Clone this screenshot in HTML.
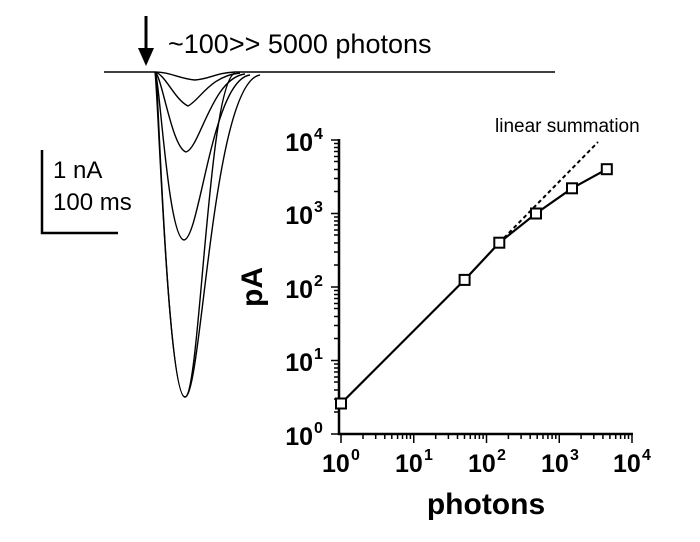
<!DOCTYPE html>
<html><head><style>
body{margin:0;background:#fff;}
svg{display:block;font-family:"Liberation Sans",Arial,sans-serif;}
.b{font-weight:bold;}
</style></head><body>
<svg width="700" height="542" viewBox="0 0 700 542">
<rect width="700" height="542" fill="#fff"/>
<line x1="146" y1="16" x2="146" y2="52" stroke="#000" stroke-width="3"/>
<polygon points="138,48 154,48 146,66" fill="#000"/>
<text x="168" y="53" font-size="27">~100&gt;&gt; 5000 photons</text>
<g fill="none" stroke="#000" stroke-width="1.4">
<path d="M104,72 L155,72 C170,72 180,79 195,80 C210,79 215,73 235,72 L555,72"/>
<path d="M155,72 C165,74 175,100 188,106 C200,100 210,76 240,73"/>
<path d="M155,72 C162,76 172,148 186,152 C200,148 212,78 245,74"/>
<path d="M155,72 C160,80 168,238 184,240 C200,238 212,80 250,75"/>
<path d="M155,72 C158,90 168,397 185,397 C202,397 212,82 260,75"/>
<path d="M156,72 C158,90 168,397 185,397 C200,397 208,82 235,73"/>
</g>
<path d="M42,150 L42,233 L118,233" fill="none" stroke="#000" stroke-width="2.5"/>
<text x="53" y="178" font-size="24">1 nA</text>
<text x="53" y="210" font-size="24">100 ms</text>
<g stroke="#000" stroke-width="2.5" fill="none">
<line x1="339" y1="139" x2="339" y2="435"/>
<line x1="338" y1="434" x2="633" y2="434"/>
</g>
<g stroke="#000" stroke-width="1.5">
<line x1="331" y1="140" x2="339" y2="140"/><line x1="331" y1="213.5" x2="339" y2="213.5"/><line x1="331" y1="287" x2="339" y2="287"/><line x1="331" y1="360.5" x2="339" y2="360.5"/><line x1="331" y1="434" x2="339" y2="434"/>
<line x1="334" y1="412" x2="339" y2="412"/><line x1="334" y1="399" x2="339" y2="399"/><line x1="334" y1="390" x2="339" y2="390"/><line x1="334" y1="382" x2="339" y2="382"/><line x1="334" y1="377" x2="339" y2="377"/><line x1="334" y1="372" x2="339" y2="372"/><line x1="334" y1="368" x2="339" y2="368"/><line x1="334" y1="364" x2="339" y2="364"/>
<line x1="334" y1="338.5" x2="339" y2="338.5"/><line x1="334" y1="325.5" x2="339" y2="325.5"/><line x1="334" y1="316.5" x2="339" y2="316.5"/><line x1="334" y1="308.5" x2="339" y2="308.5"/><line x1="334" y1="303.5" x2="339" y2="303.5"/><line x1="334" y1="298.5" x2="339" y2="298.5"/><line x1="334" y1="294.5" x2="339" y2="294.5"/><line x1="334" y1="290.5" x2="339" y2="290.5"/>
<line x1="334" y1="265" x2="339" y2="265"/><line x1="334" y1="252" x2="339" y2="252"/><line x1="334" y1="243" x2="339" y2="243"/><line x1="334" y1="235" x2="339" y2="235"/><line x1="334" y1="230" x2="339" y2="230"/><line x1="334" y1="225" x2="339" y2="225"/><line x1="334" y1="221" x2="339" y2="221"/><line x1="334" y1="217" x2="339" y2="217"/>
<line x1="334" y1="191.5" x2="339" y2="191.5"/><line x1="334" y1="178.5" x2="339" y2="178.5"/><line x1="334" y1="169.5" x2="339" y2="169.5"/><line x1="334" y1="161.5" x2="339" y2="161.5"/><line x1="334" y1="156.5" x2="339" y2="156.5"/><line x1="334" y1="151.5" x2="339" y2="151.5"/><line x1="334" y1="147.5" x2="339" y2="147.5"/><line x1="334" y1="143.5" x2="339" y2="143.5"/>
<line x1="341" y1="434" x2="341" y2="443"/><line x1="413.75" y1="434" x2="413.75" y2="443"/><line x1="486.5" y1="434" x2="486.5" y2="443"/><line x1="559.25" y1="434" x2="559.25" y2="443"/><line x1="632" y1="434" x2="632" y2="443"/>
<line x1="363" y1="434" x2="363" y2="439"/><line x1="375.7" y1="434" x2="375.7" y2="439"/><line x1="384.8" y1="434" x2="384.8" y2="439"/><line x1="391.8" y1="434" x2="391.8" y2="439"/><line x1="397.6" y1="434" x2="397.6" y2="439"/><line x1="402.5" y1="434" x2="402.5" y2="439"/><line x1="406.7" y1="434" x2="406.7" y2="439"/><line x1="410.4" y1="434" x2="410.4" y2="439"/>
<line x1="435.7" y1="434" x2="435.7" y2="439"/><line x1="448.4" y1="434" x2="448.4" y2="439"/><line x1="457.5" y1="434" x2="457.5" y2="439"/><line x1="464.5" y1="434" x2="464.5" y2="439"/><line x1="470.3" y1="434" x2="470.3" y2="439"/><line x1="475.2" y1="434" x2="475.2" y2="439"/><line x1="479.4" y1="434" x2="479.4" y2="439"/><line x1="483.1" y1="434" x2="483.1" y2="439"/>
<line x1="508.4" y1="434" x2="508.4" y2="439"/><line x1="521.1" y1="434" x2="521.1" y2="439"/><line x1="530.2" y1="434" x2="530.2" y2="439"/><line x1="537.2" y1="434" x2="537.2" y2="439"/><line x1="543" y1="434" x2="543" y2="439"/><line x1="547.9" y1="434" x2="547.9" y2="439"/><line x1="552.1" y1="434" x2="552.1" y2="439"/><line x1="555.8" y1="434" x2="555.8" y2="439"/>
<line x1="581.1" y1="434" x2="581.1" y2="439"/><line x1="593.8" y1="434" x2="593.8" y2="439"/><line x1="602.9" y1="434" x2="602.9" y2="439"/><line x1="609.9" y1="434" x2="609.9" y2="439"/><line x1="615.7" y1="434" x2="615.7" y2="439"/><line x1="620.6" y1="434" x2="620.6" y2="439"/><line x1="624.8" y1="434" x2="624.8" y2="439"/><line x1="628.5" y1="434" x2="628.5" y2="439"/>
</g>
<g class="b" font-size="25" text-anchor="end">
<text x="313" y="151">10</text><text x="313" y="224">10</text><text x="313" y="298">10</text><text x="313" y="371">10</text><text x="313" y="445">10</text>
</g>
<g class="b" font-size="16">
<text x="314" y="139">4</text><text x="314" y="212">3</text><text x="314" y="286">2</text><text x="314" y="359">1</text><text x="314" y="433">0</text>
</g>
<g class="b" font-size="25">
<text x="322" y="472">10</text><text x="395" y="472">10</text><text x="468" y="472">10</text><text x="541" y="472">10</text><text x="613" y="472">10</text>
</g>
<g class="b" font-size="16">
<text x="351" y="460">0</text><text x="424" y="460">1</text><text x="497" y="460">2</text><text x="570" y="460">3</text><text x="642" y="460">4</text>
</g>
<text x="486" y="514" class="b" font-size="30" text-anchor="middle">photons</text>
<text transform="translate(262,287) rotate(-90)" class="b" font-size="30" text-anchor="middle">pA</text>
<text x="495" y="132" font-size="19">linear summation</text>
<line x1="499" y1="243" x2="598" y2="142" stroke="#000" stroke-width="2" stroke-dasharray="4,3"/>
<polyline points="341,403.5 464.6,279.9 499.3,242.7 536,213.5 572,188.3 606.8,169.2" fill="none" stroke="#000" stroke-width="2.2"/>
<g fill="#fff" stroke="#000" stroke-width="2">
<rect x="336" y="398.5" width="10" height="10"/><rect x="459.6" y="274.9" width="10" height="10"/><rect x="494.3" y="237.7" width="10" height="10"/><rect x="531" y="208.5" width="10" height="10"/><rect x="567" y="183.3" width="10" height="10"/><rect x="601.8" y="164.2" width="10" height="10"/>
</g>
</svg>
</body></html>
